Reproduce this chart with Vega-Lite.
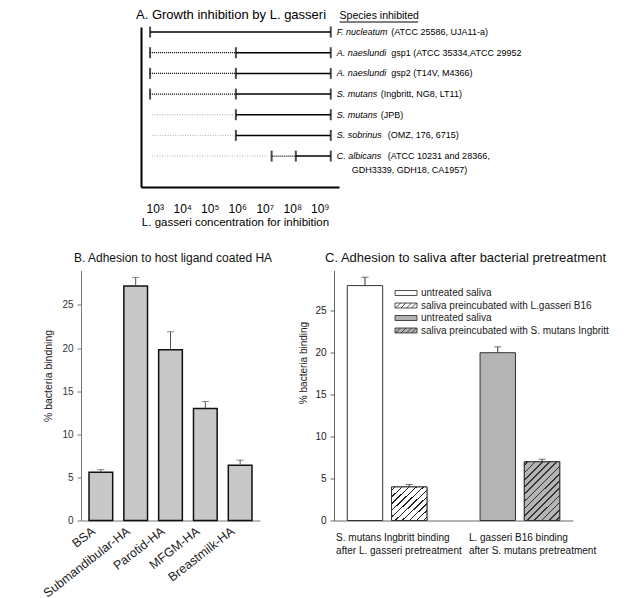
{
  "$schema": "https://vega.github.io/schema/vega-lite/v6.json",
  "background": "white",
  "padding": {"left": 40, "top": 9, "right": 0, "bottom": 0},
  "config": {
    "font": "Liberation Sans",
    "view": {"stroke": null},
    "axis": {"grid": false, "labelFont": "Liberation Sans", "titleFont": "Liberation Sans", "titleFontWeight": "normal"},
    "title": {"font": "Liberation Sans", "fontWeight": "normal", "color": "#111", "frame": "group"},
    "legend": {"labelFont": "Liberation Sans"}
  },
  "datasets": {
    "segments": [
      {"species": "F. nucleatum (ATCC 25586, UJA11-a)", "style": "solid", "from": 2.83, "to": 9.4},
      {"species": "A. naeslundi gsp1 (ATCC 35334,ATCC 29952", "style": "dotted", "from": 2.83, "to": 5.95},
      {"species": "A. naeslundi gsp1 (ATCC 35334,ATCC 29952", "style": "solid", "from": 5.95, "to": 9.4},
      {"species": "A. naeslundi gsp2 (T14V, M4366)", "style": "dotted", "from": 2.83, "to": 5.95},
      {"species": "A. naeslundi gsp2 (T14V, M4366)", "style": "solid", "from": 5.95, "to": 9.4},
      {"species": "S. mutans (Ingbritt, NG8, LT11)", "style": "dotted", "from": 2.83, "to": 5.95},
      {"species": "S. mutans (Ingbritt, NG8, LT11)", "style": "solid", "from": 5.95, "to": 9.4},
      {"species": "S. mutans (JPB)", "style": "grey", "from": 2.9, "to": 5.85},
      {"species": "S. mutans (JPB)", "style": "solid", "from": 5.95, "to": 9.4},
      {"species": "S. sobrinus (OMZ, 176, 6715)", "style": "grey", "from": 2.92, "to": 5.85},
      {"species": "S. sobrinus (OMZ, 176, 6715)", "style": "solid", "from": 5.95, "to": 9.4},
      {"species": "C. albicans (ATCC 10231 and 28366, GDH3339, GDH18, CA1957)", "style": "grey", "from": 2.9, "to": 7.1},
      {"species": "C. albicans (ATCC 10231 and 28366, GDH3339, GDH18, CA1957)", "style": "dotted", "from": 7.25, "to": 8.13},
      {"species": "C. albicans (ATCC 10231 and 28366, GDH3339, GDH18, CA1957)", "style": "solid", "from": 8.13, "to": 9.4}
    ],
    "ticks": [
      {"species": "F. nucleatum (ATCC 25586, UJA11-a)", "at": 2.83},
      {"species": "F. nucleatum (ATCC 25586, UJA11-a)", "at": 9.4},
      {"species": "A. naeslundi gsp1 (ATCC 35334,ATCC 29952", "at": 2.83},
      {"species": "A. naeslundi gsp1 (ATCC 35334,ATCC 29952", "at": 5.95},
      {"species": "A. naeslundi gsp1 (ATCC 35334,ATCC 29952", "at": 9.4},
      {"species": "A. naeslundi gsp2 (T14V, M4366)", "at": 2.83},
      {"species": "A. naeslundi gsp2 (T14V, M4366)", "at": 5.95},
      {"species": "A. naeslundi gsp2 (T14V, M4366)", "at": 9.4},
      {"species": "S. mutans (Ingbritt, NG8, LT11)", "at": 2.83},
      {"species": "S. mutans (Ingbritt, NG8, LT11)", "at": 5.95},
      {"species": "S. mutans (Ingbritt, NG8, LT11)", "at": 9.4},
      {"species": "S. mutans (JPB)", "at": 5.95},
      {"species": "S. mutans (JPB)", "at": 9.4},
      {"species": "S. sobrinus (OMZ, 176, 6715)", "at": 5.95},
      {"species": "S. sobrinus (OMZ, 176, 6715)", "at": 9.4},
      {"species": "C. albicans (ATCC 10231 and 28366, GDH3339, GDH18, CA1957)", "at": 7.25},
      {"species": "C. albicans (ATCC 10231 and 28366, GDH3339, GDH18, CA1957)", "at": 8.13},
      {"species": "C. albicans (ATCC 10231 and 28366, GDH3339, GDH18, CA1957)", "at": 9.4}
    ],
    "labels": [
      {"species": "F. nucleatum (ATCC 25586, UJA11-a)", "name": "F. nucleatum", "rest": "(ATCC 25586, UJA11-a)", "rest2": "", "end": 9.4},
      {"species": "A. naeslundi gsp1 (ATCC 35334,ATCC 29952", "name": "A. naeslundi", "rest": "gsp1 (ATCC 35334,ATCC 29952", "rest2": "", "end": 9.4},
      {"species": "A. naeslundi gsp2 (T14V, M4366)", "name": "A. naeslundi", "rest": "gsp2 (T14V, M4366)", "rest2": "", "end": 9.4},
      {"species": "S. mutans (Ingbritt, NG8, LT11)", "name": "S. mutans", "rest": "(Ingbritt, NG8, LT11)", "rest2": "", "end": 9.4},
      {"species": "S. mutans (JPB)", "name": "S. mutans", "rest": "(JPB)", "rest2": "", "end": 9.4},
      {"species": "S. sobrinus (OMZ, 176, 6715)", "name": "S. sobrinus", "rest": "(OMZ, 176, 6715)", "rest2": "", "end": 9.4},
      {"species": "C. albicans (ATCC 10231 and 28366, GDH3339, GDH18, CA1957)", "name": "C. albicans", "rest": "(ATCC 10231 and 28366,", "rest2": "GDH3339, GDH18, CA1957)", "end": 9.4}
    ],
    "header": [
      {"label": "Species inhibited", "from": 9.72, "to": 12.58}
    ],
    "adhesion": [
      {"substrate": "BSA", "binding": 5.6, "upper": 5.9},
      {"substrate": "Submandibular-HA", "binding": 27.2, "upper": 28.2},
      {"substrate": "Parotid-HA", "binding": 19.8, "upper": 21.9},
      {"substrate": "MFGM-HA", "binding": 13.0, "upper": 13.8},
      {"substrate": "Breastmilk-HA", "binding": 6.4, "upper": 7.0}
    ],
    "saliva": [
      {"assay": "S. mutans Ingbritt binding\nafter L. gasseri pretreatment", "treatment": "untreated", "series": "untreated saliva (S. mutans Ingbritt)", "binding": 28.0, "upper": 29.0},
      {"assay": "S. mutans Ingbritt binding\nafter L. gasseri pretreatment", "treatment": "preincubated", "series": "saliva preincubated  with L.gasseri B16", "binding": 4.0, "upper": 4.3},
      {"assay": "L. gasseri B16 binding\nafter S. mutans pretreatment", "treatment": "untreated", "series": "untreated saliva (L. gasseri B16)", "binding": 20.0, "upper": 20.7},
      {"assay": "L. gasseri B16 binding\nafter S. mutans pretreatment", "treatment": "preincubated", "series": "saliva preincubated  with S. mutans Ingbritt", "binding": 7.0, "upper": 7.3}
    ]
  },
  "spacing": 23.5,
  "resolve": {"legend": {"fill": "independent"}},
  "vconcat": [
    {
      "width": 258,
      "height": 160,
      "title": {"text": "A. Growth inhibition by L. gasseri", "anchor": "start", "dx": 55, "fontSize": 13, "offset": -21, "baseline": "alphabetic", "color": "#000"},
      "layer": [
        {
          "data": {"name": "segments"},
          "transform": [{"filter": "datum.style === 'grey'"}],
          "mark": {"type": "rule", "color": "#b0b0b0", "strokeWidth": 1, "strokeDash": [1, 1.5]},
          "encoding": {
            "x": {"field": "from", "type": "quantitative", "scale": {"domain": [2.5, 9.7], "range": [60, 258], "nice": false, "zero": false},
              "axis": {"values": [3, 4, 5, 6, 7, 8, 9], "labelOverlap": false, "labelExpr": "'10' + ['⁰','¹','²','³','⁴','⁵','⁶','⁷','⁸','⁹'][datum.value]", "ticks": false, "domainColor": "#000", "domainWidth": 2, "labelFontSize": 12, "labelColor": "#000", "labelPadding": 16, "title": "L. gasseri concentration for inhibition", "titleFontSize": 11.5, "titleColor": "#000", "titlePadding": 2, "titleX": 154}},
            "x2": {"field": "to"},
            "y": {"field": "species", "type": "nominal", "sort": null,
              "scale": {"type": "point", "padding": 0.87, "align": 0.14, "domain": ["F. nucleatum (ATCC 25586, UJA11-a)", "A. naeslundi gsp1 (ATCC 35334,ATCC 29952", "A. naeslundi gsp2 (T14V, M4366)", "S. mutans (Ingbritt, NG8, LT11)", "S. mutans (JPB)", "S. sobrinus (OMZ, 176, 6715)", "C. albicans (ATCC 10231 and 28366, GDH3339, GDH18, CA1957)"]},
              "axis": {"orient": "left", "offset": -60, "title": null, "labels": false, "ticks": false, "domain": true, "domainColor": "#000", "domainWidth": 2}}
          }
        },
        {
          "data": {"name": "segments"},
          "transform": [{"filter": "datum.style === 'dotted'"}],
          "mark": {"type": "rule", "color": "#000", "strokeWidth": 1.3, "strokeDash": [1, 1]},
          "encoding": {
            "x": {"field": "from", "type": "quantitative"},
            "x2": {"field": "to"},
            "y": {"field": "species", "type": "nominal", "sort": null}
          }
        },
        {
          "data": {"name": "segments"},
          "transform": [{"filter": "datum.style === 'solid'"}],
          "mark": {"type": "rule", "color": "#000", "strokeWidth": 1.5},
          "encoding": {
            "x": {"field": "from", "type": "quantitative"},
            "x2": {"field": "to"},
            "y": {"field": "species", "type": "nominal", "sort": null}
          }
        },
        {
          "data": {"name": "ticks"},
          "mark": {"type": "tick", "color": "#000", "thickness": 2, "size": 11, "orient": "vertical"},
          "encoding": {
            "x": {"field": "at", "type": "quantitative"},
            "y": {"field": "species", "type": "nominal", "sort": null}
          }
        },
        {
          "data": {"name": "labels"},
          "mark": {"type": "text", "align": "left", "baseline": "middle", "dx": 6, "fontSize": 9, "fontStyle": "italic", "color": "#000"},
          "encoding": {
            "x": {"field": "end", "type": "quantitative"},
            "y": {"field": "species", "type": "nominal", "sort": null},
            "text": {"field": "name"}
          }
        },
        {
          "data": {"name": "labels"},
          "mark": {"type": "text", "align": "left", "baseline": "middle", "dx": {"expr": "18.5 + length(datum.name) * 3.5"}, "fontSize": 9, "color": "#000"},
          "encoding": {
            "x": {"field": "end", "type": "quantitative"},
            "y": {"field": "species", "type": "nominal", "sort": null},
            "text": {"field": "rest"}
          }
        },
        {
          "data": {"name": "labels"},
          "transform": [{"filter": "datum.rest2 !== ''"}],
          "mark": {"type": "text", "align": "left", "baseline": "middle", "dx": 21, "dy": 14, "fontSize": 9, "color": "#000"},
          "encoding": {
            "x": {"field": "end", "type": "quantitative"},
            "y": {"field": "species", "type": "nominal", "sort": null},
            "text": {"field": "rest2"}
          }
        },
        {
          "data": {"name": "header"},
          "mark": {"type": "text", "align": "left", "baseline": "middle", "fontSize": 10.5, "color": "#000", "dy": -11},
          "encoding": {
            "x": {"field": "from", "type": "quantitative"},
            "y": {"value": 0},
            "text": {"field": "label"}
          }
        },
        {
          "data": {"name": "header"},
          "mark": {"type": "rule", "color": "#000", "strokeWidth": 1},
          "encoding": {
            "x": {"field": "from", "type": "quantitative"},
            "x2": {"field": "to"},
            "y": {"value": -5}
          }
        }
      ]
    },
    {
      "spacing": 25,
      "resolve": {"legend": {"fill": "independent"}},
      "hconcat": [
        {
          "width": 179,
          "height": 250,
          "data": {"name": "adhesion"},
          "title": {"text": "B. Adhesion to host ligand coated HA", "fontSize": 12, "anchor": "middle", "dx": 2.5, "offset": -3.5, "baseline": "alphabetic"},
          "encoding": {
            "x": {"field": "substrate", "type": "nominal", "sort": null, "scale": {"paddingInner": 0.32, "paddingOuter": 0.23},
              "axis": {"title": null, "ticks": false, "domainColor": "#777", "labelAngle": -38, "labelFontSize": 12.5, "labelColor": "#222", "labelPadding": 4, "labelOffset": -11}}
          },
          "layer": [
            {
              "mark": {"type": "bar", "fill": "#c8c8c8", "stroke": "#111", "strokeWidth": 1.5},
              "encoding": {
                "y": {"field": "binding", "type": "quantitative", "scale": {"domain": [0, 29], "nice": false},
                  "axis": {"values": [0, 5, 10, 15, 20, 25], "domainColor": "#777", "tickColor": "#777", "tickSize": 4, "labelFontSize": 10, "labelColor": "#333", "labelPadding": 4, "title": "% bacteria bindning", "titleFontSize": 10.5, "titleColor": "#222", "titlePadding": 8, "titleY": 105}}
              }
            },
            {
              "mark": {"type": "rule", "color": "#555", "strokeWidth": 1},
              "encoding": {"y": {"field": "binding", "type": "quantitative"}, "y2": {"field": "upper"}}
            },
            {
              "mark": {"type": "tick", "color": "#555", "size": 7, "thickness": 1, "orient": "horizontal"},
              "encoding": {"y": {"field": "upper", "type": "quantitative"}}
            }
          ]
        },
        {
          "width": 239,
          "height": 250,
          "data": {"name": "saliva"},
          "title": {"text": "C. Adhesion to saliva after bacterial pretreatment", "fontSize": 13, "anchor": "start", "dx": -9, "offset": -4.5, "baseline": "alphabetic"},
          "encoding": {
            "x": {"field": "assay", "type": "nominal", "sort": null, "scale": {"paddingInner": 0.4, "paddingOuter": 0.1},
              "axis": {"title": null, "ticks": false, "domainColor": "#666", "labelAngle": 0, "labelAlign": "left", "labelBaseline": "top", "labelOffset": -51, "labelExpr": "split(datum.label, '\\n')", "labelFontSize": 10, "labelLineHeight": 12.7, "labelPadding": 12, "labelColor": "#111"}},
            "xOffset": {"field": "treatment", "type": "nominal", "sort": null, "scale": {"domain": ["untreated", "preincubated"], "paddingInner": 0.2, "paddingOuter": 0}}
          },
          "layer": [
            {
              "mark": {"type": "bar", "stroke": "#333", "strokeWidth": 1},
              "encoding": {
                "y": {"field": "binding", "type": "quantitative", "scale": {"domain": [0, 29.8], "nice": false},
                  "axis": {"values": [0, 5, 10, 15, 20, 25], "domainColor": "#666", "tickColor": "#666", "tickSize": 4, "labelFontSize": 10, "labelColor": "#222", "labelPadding": 4, "title": "% bacteria binding", "titleFontSize": 10, "titleColor": "#222", "titlePadding": 6, "titleY": 92}},
                "fill": {"field": "series", "type": "nominal",
                  "scale": {"domain": ["untreated saliva (S. mutans Ingbritt)", "saliva preincubated  with L.gasseri B16", "untreated saliva (L. gasseri B16)", "saliva preincubated  with S. mutans Ingbritt"], "range": ["#ffffff", "#ffffff", "#b4b4b4", "#b4b4b4"]},
                  "legend": {"orient": "none", "legendX": 66, "legendY": 16.5, "title": null, "padding": 0,
                    "symbolType": "M-2,-0.45H2V0.45H-2Z", "symbolSize": 121, "symbolStrokeColor": "#222", "symbolStrokeWidth": 0.8,
                    "labelFontSize": 10, "labelColor": "#222", "labelOffset": 9, "rowPadding": 1.5, "labelLimit": 300,
                    "labelExpr": "indexof(datum.label, ' (') > 0 ? substring(datum.label, 0, indexof(datum.label, ' (')) : datum.label",
                    "encode": {"symbols": {"update": {
                      "stroke": {"value": "#222"},
                      "strokeWidth": {"value": 0.8},
                      "opacity": {"value": 1},
                      "shape": {"signal": "indexof(datum.value, 'preincubated') >= 0 ? 'M-2,-0.45H2V0.45H-2Z M-1.9,0.45L-1,-0.45 M-0.9,0.45L0,-0.45 M0.1,0.45L1,-0.45 M1,0.45L1.9,-0.45' : 'M-2,-0.45H2V0.45H-2Z'"}
                    }}}
                  }
                }
              }
            },
            {
              "transform": [{"filter": "datum.series === 'saliva preincubated  with L.gasseri B16'"}],
              "mark": {"type": "bar", "stroke": "#333", "strokeWidth": 1,
                "fill": {"gradient": "linear", "x1": 0, "y1": 0, "x2": 1, "y2": 1, "stops": [
                  {"offset": 0, "color": "#fff"},
                  {"offset": 0.039, "color": "#fff"}, {"offset": 0.039, "color": "#222"}, {"offset": 0.061, "color": "#222"}, {"offset": 0.061, "color": "#fff"},
                  {"offset": 0.139, "color": "#fff"}, {"offset": 0.139, "color": "#222"}, {"offset": 0.161, "color": "#222"}, {"offset": 0.161, "color": "#fff"},
                  {"offset": 0.239, "color": "#fff"}, {"offset": 0.239, "color": "#222"}, {"offset": 0.261, "color": "#222"}, {"offset": 0.261, "color": "#fff"},
                  {"offset": 0.339, "color": "#fff"}, {"offset": 0.339, "color": "#222"}, {"offset": 0.361, "color": "#222"}, {"offset": 0.361, "color": "#fff"},
                  {"offset": 0.439, "color": "#fff"}, {"offset": 0.439, "color": "#222"}, {"offset": 0.461, "color": "#222"}, {"offset": 0.461, "color": "#fff"},
                  {"offset": 0.539, "color": "#fff"}, {"offset": 0.539, "color": "#222"}, {"offset": 0.561, "color": "#222"}, {"offset": 0.561, "color": "#fff"},
                  {"offset": 0.639, "color": "#fff"}, {"offset": 0.639, "color": "#222"}, {"offset": 0.661, "color": "#222"}, {"offset": 0.661, "color": "#fff"},
                  {"offset": 0.739, "color": "#fff"}, {"offset": 0.739, "color": "#222"}, {"offset": 0.761, "color": "#222"}, {"offset": 0.761, "color": "#fff"},
                  {"offset": 0.839, "color": "#fff"}, {"offset": 0.839, "color": "#222"}, {"offset": 0.861, "color": "#222"}, {"offset": 0.861, "color": "#fff"},
                  {"offset": 0.939, "color": "#fff"}, {"offset": 0.939, "color": "#222"}, {"offset": 0.961, "color": "#222"}, {"offset": 0.961, "color": "#fff"},
                  {"offset": 1, "color": "#fff"}]}},
              "encoding": {"y": {"field": "binding", "type": "quantitative"}}
            },
            {
              "transform": [{"filter": "datum.series === 'saliva preincubated  with S. mutans Ingbritt'"}],
              "mark": {"type": "bar", "stroke": "#333", "strokeWidth": 1,
                "fill": {"gradient": "linear", "x1": 0, "y1": 0, "x2": 0.706, "y2": 1.176, "stops": [
                  {"offset": 0, "color": "#b4b4b4"},
                  {"offset": 0.0295, "color": "#b4b4b4"}, {"offset": 0.0295, "color": "#333"}, {"offset": 0.0475, "color": "#333"}, {"offset": 0.0475, "color": "#b4b4b4"},
                  {"offset": 0.1064, "color": "#b4b4b4"}, {"offset": 0.1064, "color": "#333"}, {"offset": 0.1244, "color": "#333"}, {"offset": 0.1244, "color": "#b4b4b4"},
                  {"offset": 0.1833, "color": "#b4b4b4"}, {"offset": 0.1833, "color": "#333"}, {"offset": 0.2013, "color": "#333"}, {"offset": 0.2013, "color": "#b4b4b4"},
                  {"offset": 0.2602, "color": "#b4b4b4"}, {"offset": 0.2602, "color": "#333"}, {"offset": 0.2782, "color": "#333"}, {"offset": 0.2782, "color": "#b4b4b4"},
                  {"offset": 0.3372, "color": "#b4b4b4"}, {"offset": 0.3372, "color": "#333"}, {"offset": 0.3552, "color": "#333"}, {"offset": 0.3552, "color": "#b4b4b4"},
                  {"offset": 0.4141, "color": "#b4b4b4"}, {"offset": 0.4141, "color": "#333"}, {"offset": 0.4321, "color": "#333"}, {"offset": 0.4321, "color": "#b4b4b4"},
                  {"offset": 0.491, "color": "#b4b4b4"}, {"offset": 0.491, "color": "#333"}, {"offset": 0.509, "color": "#333"}, {"offset": 0.509, "color": "#b4b4b4"},
                  {"offset": 0.5679, "color": "#b4b4b4"}, {"offset": 0.5679, "color": "#333"}, {"offset": 0.5859, "color": "#333"}, {"offset": 0.5859, "color": "#b4b4b4"},
                  {"offset": 0.6448, "color": "#b4b4b4"}, {"offset": 0.6448, "color": "#333"}, {"offset": 0.6628, "color": "#333"}, {"offset": 0.6628, "color": "#b4b4b4"},
                  {"offset": 0.7218, "color": "#b4b4b4"}, {"offset": 0.7218, "color": "#333"}, {"offset": 0.7398, "color": "#333"}, {"offset": 0.7398, "color": "#b4b4b4"},
                  {"offset": 0.7987, "color": "#b4b4b4"}, {"offset": 0.7987, "color": "#333"}, {"offset": 0.8167, "color": "#333"}, {"offset": 0.8167, "color": "#b4b4b4"},
                  {"offset": 0.8756, "color": "#b4b4b4"}, {"offset": 0.8756, "color": "#333"}, {"offset": 0.8936, "color": "#333"}, {"offset": 0.8936, "color": "#b4b4b4"},
                  {"offset": 0.9525, "color": "#b4b4b4"}, {"offset": 0.9525, "color": "#333"}, {"offset": 0.9705, "color": "#333"}, {"offset": 0.9705, "color": "#b4b4b4"},
                  {"offset": 1, "color": "#b4b4b4"}]}},
              "encoding": {"y": {"field": "binding", "type": "quantitative"}}
            },
            {
              "mark": {"type": "rule", "color": "#333", "strokeWidth": 1},
              "encoding": {"y": {"field": "binding", "type": "quantitative"}, "y2": {"field": "upper"}}
            },
            {
              "mark": {"type": "tick", "color": "#333", "size": 7, "thickness": 1, "orient": "horizontal"},
              "encoding": {"y": {"field": "upper", "type": "quantitative"}}
            }
          ]
        }
      ]
    }
  ]
}
